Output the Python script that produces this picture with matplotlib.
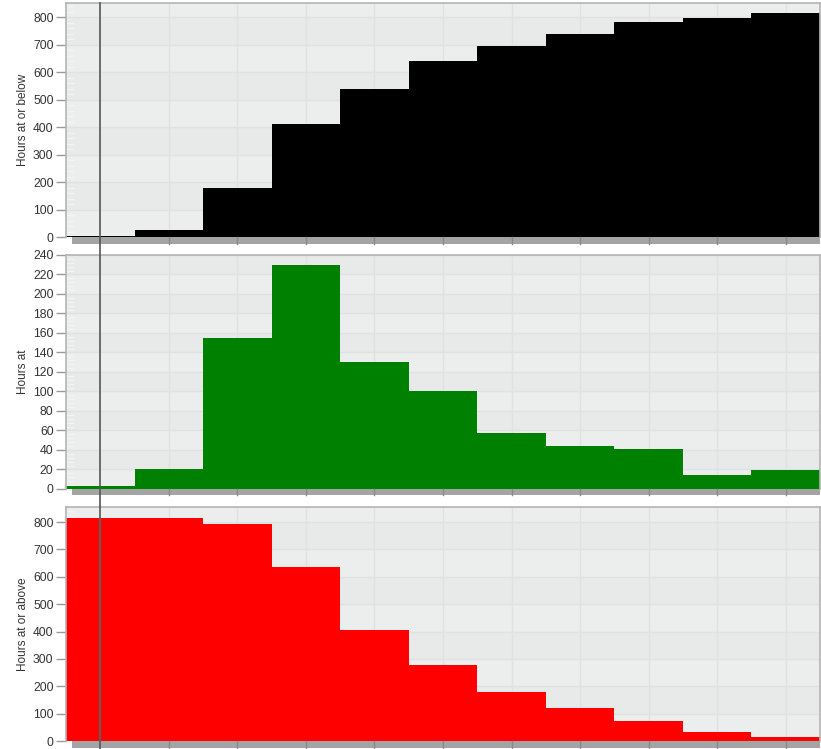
import matplotlib
matplotlib.use("Agg")
import matplotlib.pyplot as plt
from matplotlib.patches import Rectangle
from matplotlib.lines import Line2D
import numpy as np

plt.rcParams['font.family'] = ['Liberation Sans', 'DejaVu Sans']

# Eleven equal-width bins
bin_labels = list(range(11))
hours_at_or_below = [3, 25, 180, 410, 538, 640, 695, 740, 782, 796, 814]
hours_at = [3, 21, 155, 230, 130, 100, 57, 44, 41, 14, 19]
hours_at_or_above = [816, 813, 793, 636, 405, 277, 178, 120, 73, 32, 16]

panels = [
    ("Hours at or below", hours_at_or_below, "#000000", 852, 100, 800),
    ("Hours at", hours_at, "#008000", 240, 20, 240),
    ("Hours at or above", hours_at_or_above, "#ff0000", 855, 100, 800),
]

W, H = 821, 749
fig = plt.figure(figsize=(W / 100, H / 100), dpi=100)

left_px, right_px = 66, 820
tops = [3, 255, 507]
bots = [237, 489, 741]

band_a = "#eceeee"
band_b = "#e8e9e9"
grid_c = "#e0e1e1"

x = np.arange(len(bin_labels))
wpx = right_px - left_px

for (label, vals, color, ytop, step, tmax), tp, bp in zip(panels, tops, bots):
    ax = fig.add_axes([left_px / W, 1 - bp / H, wpx / W, (bp - tp) / H])
    ax.set_xlim(0, len(bin_labels))
    ax.set_ylim(0, ytop)
    ax.set_facecolor(band_a)

    # alternating horizontal bands between gridlines
    yt = np.arange(0, tmax + step, step)
    edges = list(yt) + [ytop]
    for i in range(len(edges) - 1):
        if i % 2 == 1:
            ax.axhspan(edges[i], edges[i + 1], color=band_b, lw=0, zorder=0)
    for y in yt[1:]:
        ax.axhline(y, color=grid_c, lw=1, zorder=0.5)
    for xc in x[1:] + 0.5:
        ax.axvline(xc, color=grid_c, lw=1, zorder=0.5)

    # step bars
    ax.bar(x, vals, width=1.0, align='edge', color=color, lw=0, zorder=2)

    ax.set_yticks(yt)
    ax.set_yticklabels([str(int(v)) for v in yt])
    ax.set_xticks(x + 0.5)
    ax.set_xticklabels([])
    ax.tick_params(axis='y', length=7, width=1, color="#9a9a9a", labelsize=8.8,
                   labelcolor="#333333", pad=2)
    ax.tick_params(axis='x', length=0)
    # faint minor marks on the inside of the left edge
    ax.set_yticks(np.arange(0, ytop, step / 5), minor=True)
    ax.tick_params(axis='y', which='minor', direction='in', length=6, width=1,
                   color="#f2f3f3")

    for s in ['left', 'top', 'right']:
        ax.spines[s].set_color("#b4b4b4")
        ax.spines[s].set_linewidth(1.2)
    ax.spines['bottom'].set_visible(False)

    ax.set_ylabel(label, fontsize=8.5, color="#333333")
    ax.yaxis.set_label_coords(-37 / wpx, 0.5)

    # grey shadow strip along the x axis
    hpx = bp - tp
    ax.add_patch(Rectangle((6 / wpx, -6.5 / hpx), 1 - 6 / wpx, 6.5 / hpx,
                           transform=ax.transAxes, color="#a4a4a4", lw=0,
                           clip_on=False, zorder=3))
    # small tick marks on the strip
    for xc in x[1:] + 0.5:
        ax.plot([xc, xc], [-6.5 / hpx, 0], transform=ax.get_xaxis_transform(),
                color="#8a8a8a", lw=1, clip_on=False, zorder=4)

# marker line running through all panels
xm = (left_px + 0.5 * wpx / len(bin_labels)) / W
fig.add_artist(Line2D([xm, xm], [1 - 3 / H, 0], color="#555555", lw=1.2, zorder=4))
ax3 = fig.axes[-1]
ax3.axvline(0.5, ymin=0, ymax=hours_at_or_above[0] / 855, color="#5fb3b3",
            lw=1.2, zorder=6)

fig.savefig("out.png", dpi=100)
